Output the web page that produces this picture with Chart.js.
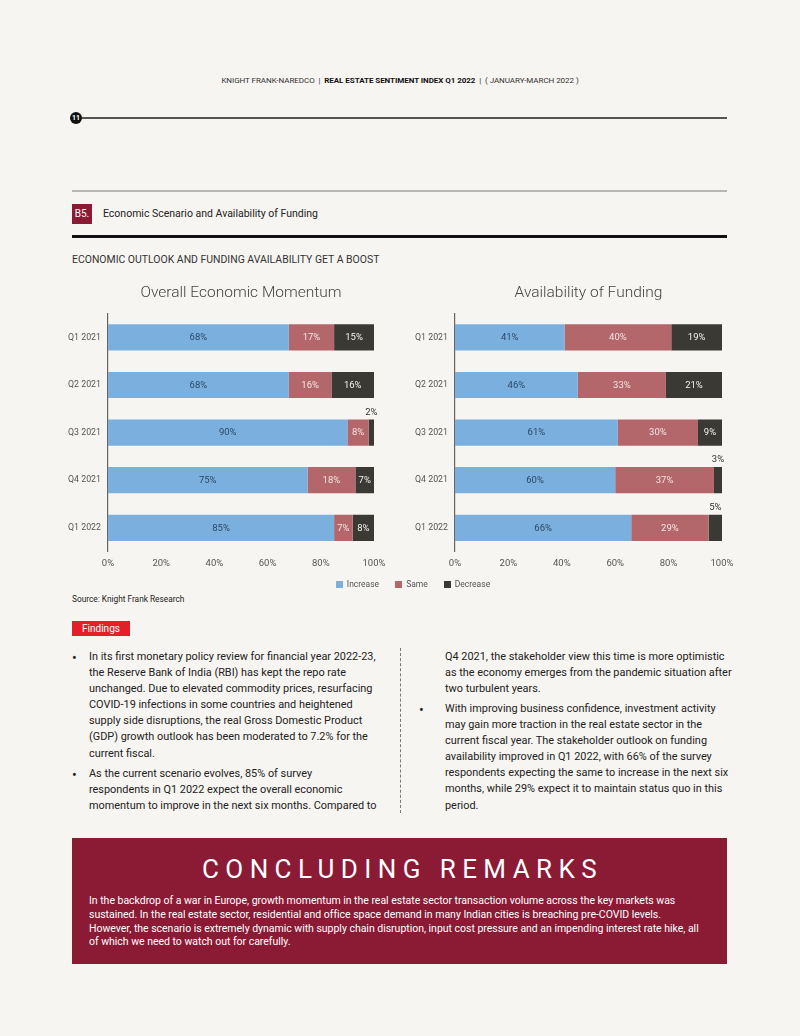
<!DOCTYPE html>
<html>
<head>
<meta charset="utf-8">
<script src="https://cdn.jsdelivr.net/npm/chart.js@4.4.1/dist/chart.umd.min.js"></script>
<style>
  html, body { margin: 0; padding: 0; }
  body { width: 800px; height: 1036px; background: #f7f5f1; position: relative; overflow: hidden;
         font-family: Roboto, "Liberation Sans", sans-serif; color: #222; }
  .abs { position: absolute; }
  .hdr { left: 0; width: 800px; top: 76px; text-align: center; font-size: 8px; color: #333; letter-spacing: -0.05px; }
  .hdr b { color: #111; font-weight: 700; }
  .rule { left: 82px; top: 117px; width: 645px; height: 1.5px; background: #555; }
  .pg { left: 70px; top: 112px; width: 12px; height: 12px; border-radius: 50%; background: #111; color: #fff;
        font-size: 7px; font-weight: 700; text-align: center; line-height: 12px; }
  .grey { left: 72px; top: 190px; width: 655px; height: 1.5px; background: #b8b6b2; }
  .b5 { left: 72px; top: 204px; width: 20px; height: 20px; background: #8b1a35; color: #fff; font-size: 10px;
        line-height: 20px; text-align: center; }
  .sect { left: 103px; top: 207px; font-size: 10.5px; color: #222; }
  .thick { left: 72px; top: 235px; width: 655px; height: 3px; background: #111; }
  .sub { left: 72px; top: 253px; font-size: 10.45px; color: #333; letter-spacing: 0; }
  canvas { position: absolute; }
  .legend { left: 0; width: 826px; top: 579px; text-align: center; font-size: 8.5px; color: #555; }
  .legend span { margin: 0 8px; }
  .legend i { display: inline-block; width: 7px; height: 7px; margin-right: 4px; vertical-align: -0.5px; }
  .src { left: 72px; top: 594px; font-size: 8.3px; color: #222; }
  .find { left: 72px; top: 621px; width: 58px; height: 15px; background: #e3202a; color: #fff; font-size: 10px;
          line-height: 15px; text-align: center; }
  .col { font-size: 10.9px; line-height: 16.1px; color: #222; white-space: nowrap; letter-spacing: 0; }
  .bul { font-size: 14px; line-height: 14px; }
  .dash { left: 400px; top: 648px; height: 165px; border-left: 1px dashed #777; }
  .box { left: 72px; top: 838px; width: 655px; height: 126px; background: #8b1a35; color: #fff; }
  .box h2 { margin: 0; position: absolute; top: 16px; left: 3px; width: 655px; text-align: center; font-weight: 400;
            font-size: 26px; letter-spacing: 6.4px; }
  .box p { margin: 0; position: absolute; left: 17px; top: 56px; font-size: 10.5px; line-height: 13.8px;
           white-space: nowrap; letter-spacing: -0.02px; }
</style>
</head>
<body>

<div class="abs hdr">KNIGHT FRANK-NAREDCO &nbsp;|&nbsp; <b>REAL ESTATE SENTIMENT INDEX Q1 2022</b> &nbsp;|&nbsp; ( JANUARY-MARCH 2022 )</div>
<div class="abs rule"></div>
<div class="abs pg">11</div>

<div class="abs grey"></div>
<div class="abs b5">B5.</div>
<div class="abs sect">Economic Scenario and Availability of Funding</div>
<div class="abs thick"></div>
<div class="abs sub">ECONOMIC OUTLOOK AND FUNDING AVAILABILITY GET A BOOST</div>

<canvas id="chart-econ" width="335" height="301" style="left:60px;top:280px;width:335px;height:301px"></canvas>
<canvas id="chart-fund" width="343" height="301" style="left:400px;top:280px;width:343px;height:301px"></canvas>

<div class="abs legend" id="legend"></div>
<div class="abs src">Source: Knight Frank Research</div>

<div class="abs find">Findings</div>
<div class="abs dash"></div>

<div class="abs bul" style="left:72px;top:651px">&#8226;</div>
<div class="abs col" style="left:89px;top:649px">In its first monetary policy review for financial year 2022-23,<br>the Reserve Bank of India (RBI) has kept the repo rate<br>unchanged. Due to elevated commodity prices, resurfacing<br>COVID-19 infections in some countries and heightened<br>supply side disruptions, the real Gross Domestic Product<br>(GDP) growth outlook has been moderated to 7.2% for the<br>current fiscal.</div>
<div class="abs bul" style="left:72px;top:768px">&#8226;</div>
<div class="abs col" style="left:89px;top:766px">As the current scenario evolves, 85% of survey<br>respondents in Q1 2022 expect the overall economic<br>momentum to improve in the next six months. Compared to</div>

<div class="abs col" style="left:445px;top:649px">Q4 2021, the stakeholder view this time is more optimistic<br>as the economy emerges from the pandemic situation after<br>two turbulent years.</div>
<div class="abs bul" style="left:419px;top:703px">&#8226;</div>
<div class="abs col" style="left:445px;top:701px">With improving business confidence, investment activity<br>may gain more traction in the real estate sector in the<br>current fiscal year. The stakeholder outlook on funding<br>availability improved in Q1 2022, with 66% of the survey<br>respondents expecting the same to increase in the next six<br>months, while 29% expect it to maintain status quo in this<br>period.</div>

<div class="abs box">
  <h2>CONCLUDING REMARKS</h2>
  <p>In the backdrop of a war in Europe, growth momentum in the real estate sector transaction volume across the key markets was<br>sustained. In the real estate sector, residential and office space demand in many Indian cities is breaching pre-COVID levels.<br>However, the scenario is extremely dynamic with supply chain disruption, input cost pressure and an impending interest rate hike, all<br>of which we need to watch out for carefully.</p>
</div>

<script>
// ── data ──
const quarters   = ['Q1 2021', 'Q2 2021', 'Q3 2021', 'Q4 2021', 'Q1 2022'];
const xTicks     = [0, 20, 40, 60, 80, 100];
const seriesName = ['Increase', 'Same', 'Decrease'];

const econIncrease = [68, 68, 90, 75, 85];
const econSame     = [17, 16,  8, 18,  7];
const econDecrease = [15, 16,  2,  7,  8];

const fundIncrease = [41, 46, 61, 60, 66];
const fundSame     = [40, 33, 30, 37, 29];
const fundDecrease = [19, 21,  9,  3,  5];

const COLORS     = ['#7bb0de', '#b4676a', '#3b3933'];
const LABEL_COL  = ['#2b4866', '#f6e4e4', '#f2f2f2'];
const FONT       = 'Roboto, "Liberation Sans", sans-serif';

// legend in html, same colours as the bars
document.getElementById('legend').innerHTML = seriesName
  .map((n, i) => `<span><i style="background:${COLORS[i]}"></i>${n}</span>`).join('');

/* value labels: centred in each segment, tiny ones sit above the bar end */
const valueLabels = {
  id: 'valueLabels',
  afterDatasetsDraw(chart) {
    const ctx = chart.ctx;
    ctx.save();
    ctx.font = '9.5px ' + FONT;
    ctx.textAlign = 'center';
    ctx.textBaseline = 'middle';
    chart.data.datasets.forEach((ds, di) => {
      chart.getDatasetMeta(di).data.forEach((bar, i) => {
        const v = ds.data[i];
        const cx = (bar.x + bar.base) / 2;
        if (v <= 5) {
          ctx.fillStyle = '#333';
          ctx.fillText(v + '%', cx, bar.y - bar.height / 2 - 7);
        } else {
          ctx.fillStyle = LABEL_COL[di];
          ctx.fillText(v + '%', cx, bar.y + 0.5);
        }
      });
    });
    ctx.restore();
  }
};

function makeChart(canvasId, title, series, axisWidth) {
  const el = document.getElementById(canvasId);
  return new Chart(el, {
    type: 'bar',
    data: {
      labels: quarters,
      datasets: series.map((d, i) => ({
        label: seriesName[i], data: d, backgroundColor: COLORS[i],
        barPercentage: 0.55, categoryPercentage: 1, borderWidth: 0,
      })),
    },
    options: {
      indexAxis: 'y',
      responsive: false,
      animation: false,
      layout: { padding: { left: 0, right: 21, top: 0, bottom: 6 } },
      plugins: {
        legend: { display: false },
        tooltip: { enabled: false },
        title: {
          display: true, text: title, fullSize: false, color: '#444',
          font: { family: FONT, size: 15.5, weight: '300' },
          padding: { top: 4, bottom: 11 },
        },
      },
      scales: {
        x: {
          stacked: true, min: 0, max: 100,
          grid: { display: false, drawTicks: false }, border: { display: false },
          afterBuildTicks: s => { s.ticks = xTicks.map(v => ({ value: v })); },
          ticks: { color: '#555', padding: 6, font: { family: FONT, size: 9.5 }, callback: v => v + '%' },
        },
        y: {
          stacked: true,
          grid: { display: false, drawTicks: false },
          border: { display: true, color: '#666', width: 1.2 },
          afterFit: s => { s.width = axisWidth; },
          ticks: { color: '#555', padding: 7, font: { family: FONT, size: 8.8 } },
        },
      },
    },
    plugins: [valueLabels],
  });
}

makeChart('chart-econ', 'Overall Economic Momentum', [econIncrease, econSame, econDecrease], 48);
makeChart('chart-fund', 'Availability of Funding',   [fundIncrease, fundSame, fundDecrease], 55);
</script>
</body>
</html>
